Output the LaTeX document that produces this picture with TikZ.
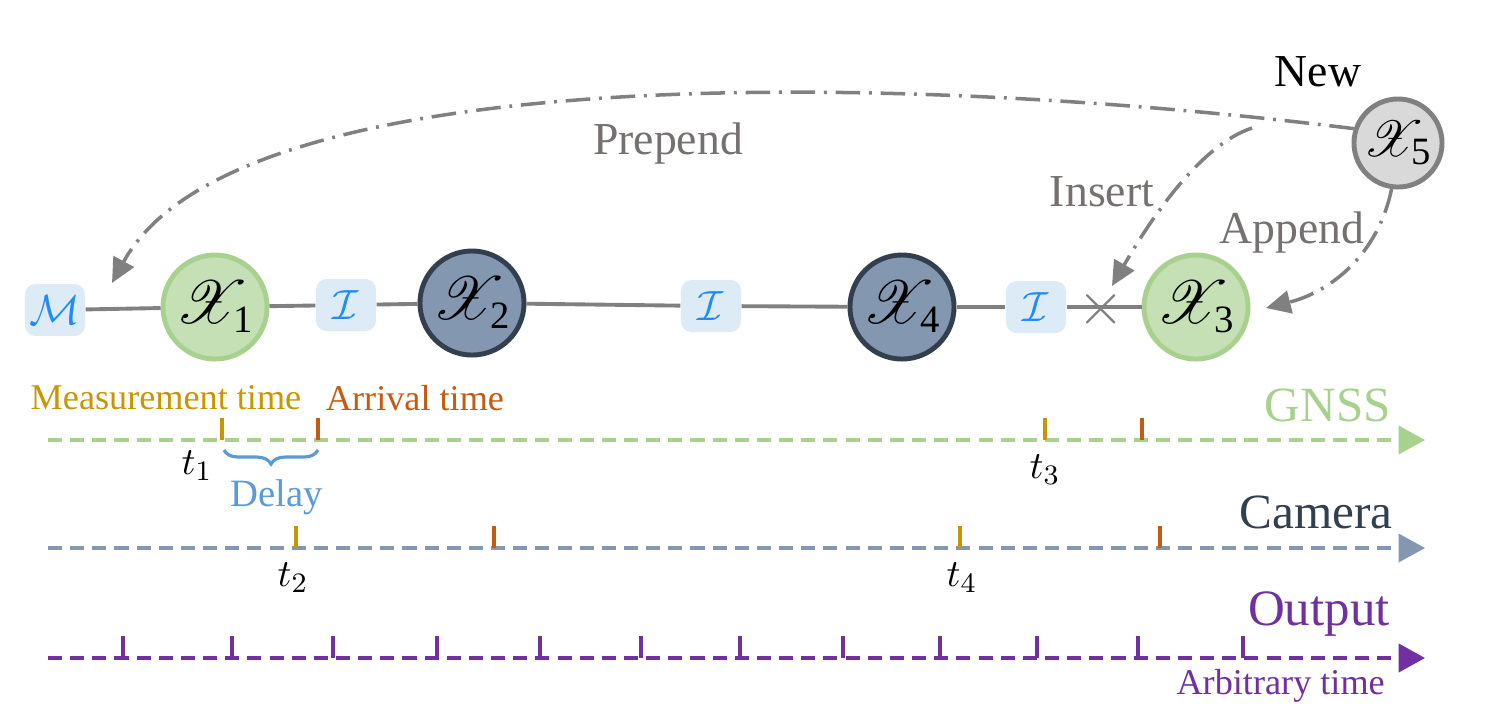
\documentclass[tikz,border=0pt]{standalone}
\usepackage{fontspec}
\setmainfont{Liberation Serif}
\usepackage{amsmath,amssymb}
\usepackage{mathrsfs}
\usepackage{xcolor}
\usepackage{tikz}
\usetikzlibrary{positioning, arrows.meta, decorations.pathreplacing}
\definecolor{FixFill}{RGB}{197,224,180}
\definecolor{FixDraw}{RGB}{169,209,142}
\definecolor{OptFill}{RGB}{132,151,176}
\definecolor{OptDraw}{RGB}{50,63,79}
\definecolor{NewFill}{RGB}{217,217,217}
\definecolor{NewDraw}{RGB}{128,128,128}
\definecolor{BoxBlue}{RGB}{221,235,247}
\definecolor{SymBlue}{RGB}{30,140,250}
\definecolor{MeasGold}{RGB}{200,150,0}
\definecolor{ArrOrange}{RGB}{197,90,17}
\definecolor{DelayBlue}{RGB}{91,155,213}
\definecolor{OutPurple}{RGB}{112,48,160}
\definecolor{LineGray}{RGB}{128,128,128}
\definecolor{TxtGray}{RGB}{118,113,113}
\newcommand{\stx}[1]{$\mathscr{X}_{\text{\fontsize{11}{12}\selectfont #1}}$}
\tikzset{
  stnode/.style={circle, line width=1.4pt, minimum size=1.04cm, inner sep=-9pt,
    font=\fontsize{18.5}{20}\selectfont},
  fixnode/.style={stnode, fill=FixFill, draw=FixDraw},
  optnode/.style={stnode, fill=OptFill, draw=OptDraw},
  newnode/.style={stnode, fill=NewFill, draw=NewDraw, minimum size=0.88cm,
    font=\fontsize{15.5}{17}\selectfont},
  factbox/.style={rounded corners=3pt, fill=BoxBlue, minimum width=0.6cm, minimum height=0.52cm,
    inner sep=0pt, text=SymBlue, font=\fontsize{12}{14}\selectfont},
  chain/.style={line width=1.1pt, LineGray},
  dasharr/.style={-{Triangle[length=7pt,width=6.5pt]}, line width=1pt, LineGray,
    dash pattern=on 7pt off 2.5pt on 0.8pt off 2.5pt},
  oplabel/.style={font=\fontsize{13}{15}\selectfont, text=TxtGray, inner sep=1pt},
  tline/.style={line width=0.9pt, dash pattern=on 4pt off 2.3pt, -{Triangle[length=7.5pt,width=8pt]}},
  tick/.style={line width=1.1pt},
  tname/.style={font=\fontsize{14}{16}\selectfont, anchor=east, inner sep=1pt},
  tlab/.style={font=\fontsize{11}{13}\selectfont, inner sep=1pt},
}

\begin{document}
\begin{tikzpicture}[x=0.01cm, y=-0.01cm]
  \useasboundingbox (0,0) rectangle (1503,714);
  % factor graph
  \node[factbox] (m) at (55,310) {$\mathcal{M}$};
  \node[fixnode] (x1) at (215,307) {\stx{1}};
  \node[factbox] (b1) at (346,305) {$\mathcal{I}$};
  \node[optnode] (x2) at (472,303) {\stx{2}};
  \node[factbox] (b2) at (711,306) {$\mathcal{I}$};
  \node[optnode] (x4) at (902,307) {\stx{4}};
  \node[factbox] (b3) at (1036,307) {$\mathcal{I}$};
  \node[fixnode] (x3) at (1196,307) {\stx{3}};
  \node[newnode] (x5) at (1398,143) {\stx{5}};
  \node[font=\fontsize{13}{15}\selectfont] (new) at (1318,72) {New};
  \foreach \a/\b in {m/x1, x1/b1, b1/x2, x2/b2, b2/x4, x4/b3, b3/x3}
    \draw[chain] (\a) -- (\b);
  \node[text=LineGray, font=\fontsize{16}{16}\selectfont, inner sep=0pt] (cut) at (1101,309) {$\times$};
  % prepend / insert / append
  \coordinate (ins) at (1252,128);
  \coordinate (mtop) at (112,283);
  \coordinate (cuttop) at (1112,286);
  \coordinate (x3end) at (1266,308);
  \draw[dasharr] (x5.162) .. controls (900,72) and (235,58) .. (mtop);
  \draw[dasharr] (ins) .. controls (1200,145) and (1150,220) .. (cuttop);
  \draw[dasharr] (x5.-98) .. controls (1378,255) and (1330,292) .. (x3end);
  \node[oplabel] (prep) at (668,143) {Prepend};
  \node[oplabel] (insl) at (1102,192) {Insert};
  \node[oplabel] (appl) at (1292,232) {Append};
  % time lines
  \coordinate (gs) at (48,440); \coordinate (ge) at (1425,440);
  \coordinate (cs) at (48,548); \coordinate (ce) at (1425,548);
  \coordinate (os) at (48,658); \coordinate (oe) at (1425,658);
  \draw[tline, FixDraw] (gs) -- (ge);
  \draw[tline, OptFill] (cs) -- (ce);
  \draw[tline, OutPurple, line width=1.1pt] (os) -- (oe);
  \node[tname, text=FixDraw] (gnss) at (1395,405) {GNSS};
  \node[tname, text=OptDraw] (cam) at (1397,512) {Camera};
  \node[tname, text=OutPurple, font=\fontsize{14.5}{17}\selectfont] (out) at (1394,614) {Output};
  \node[tname, text=OutPurple, font=\fontsize{10.3}{12}\selectfont] (arb) at (1389,686) {Arbitrary time};
  % measurement and arrival ticks
  \foreach \x/\y/\c in {222/440/MeasGold, 318/440/ArrOrange, 1045/440/MeasGold, 1142/440/ArrOrange,
    296/548/MeasGold, 494/548/ArrOrange, 960/548/MeasGold, 1160/548/ArrOrange}
    \draw[tick, \c] (\x,\y) -- (\x,\y-22);
  \foreach \x in {123,232,333,437,540,641,740,843,940,1037,1138,1243}
    \draw[tick, OutPurple] (\x,658) -- (\x,636);
  \node[tlab] (t1) at (197,466) {$t_1$};
  \node[tlab] (t3) at (1045,470) {$t_3$};
  \node[tlab] (t2) at (293,578) {$t_2$};
  \node[tlab] (t4) at (962,578) {$t_4$};
  \node[tlab, text=MeasGold, font=\fontsize{10.3}{12}\selectfont] (meas) at (166,398) {Measurement time};
  \node[tlab, text=ArrOrange, font=\fontsize{10.3}{12}\selectfont] (arr) at (415,398) {Arrival time};
  \coordinate (dl) at (224,450); \coordinate (dr) at (318,450);
  \draw[DelayBlue, line width=0.9pt, decorate, decoration={brace, mirror, amplitude=4pt}] (dl) -- (dr);
  \node[tlab, text=DelayBlue] (delay) at (277,497) {Delay};
\end{tikzpicture}
\end{document}
